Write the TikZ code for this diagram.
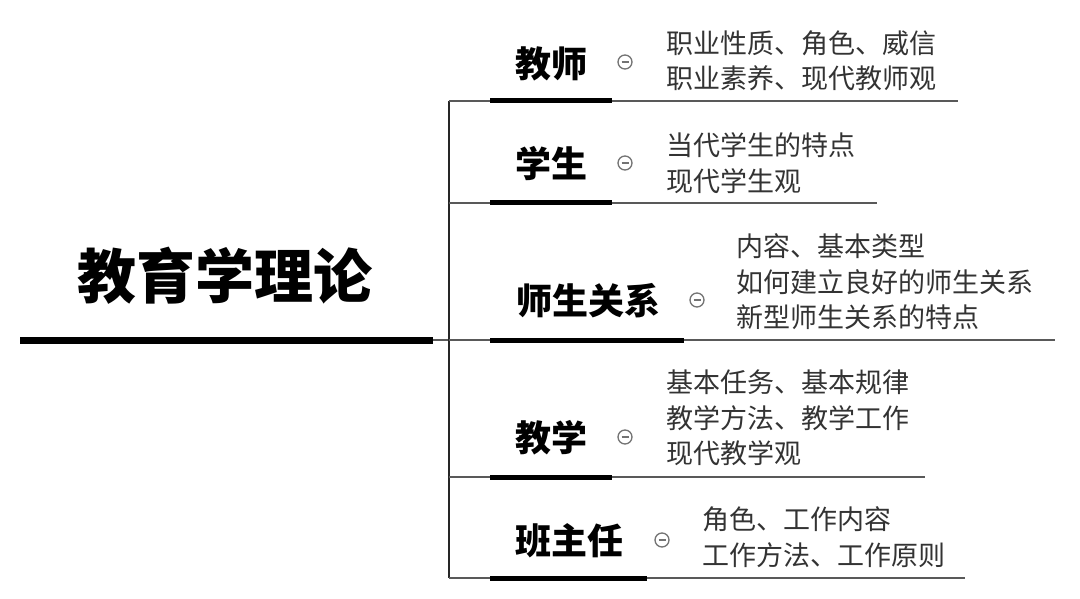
\documentclass[tikz,border=0pt]{standalone}
\usepackage{fontspec}
\setmainfont{Noto Sans CJK SC}
\begin{document}
\begin{tikzpicture}[x=1pt,y=-1pt,
  rootlabel/.style={font=\fontsize{59}{60}\selectfont\bfseries, inner sep=0pt, text=black},
  branchlabel/.style={font=\fontsize{36}{38}\selectfont\bfseries, inner sep=0pt, text=black, anchor=west},
  detail/.style={font=\fontsize{27}{35.5}\selectfont, inner sep=0pt, text=black!80, anchor=west, align=left},
  collapse/.style={circle, draw=black!55, line width=1.3pt, minimum size=14pt, inner sep=0pt,
    path picture={\draw[black!55, line width=1.2pt] ([xshift=-3.5pt]path picture bounding box.center) -- ([xshift=3.5pt]path picture bounding box.center);}},
  thickline/.style={line width=5pt, black},
  rootline/.style={line width=7pt, black},
  thinline/.style={line width=1.5pt, black!65},
  spineline/.style={line width=1.8pt, black!85}
]
\useasboundingbox (0,0) rectangle (1080,599);

% root
\node[rootlabel] (root) at (225,276) {教育学理论};
\coordinate (rootL) at (20,340);
\coordinate (rootR) at (433,340);
\coordinate (spineM) at (449,340);
\coordinate (spineT) at (449,101);
\coordinate (spineB) at (449,578);
\draw[rootline] (rootL) -- (rootR);
\draw[thinline] (rootR) -- (spineM);
\draw[spineline] (spineT) -- (spineB);

% branch 1
\node[branchlabel] (b1) at (515,64) {教师};
\node[collapse] (c1) at (625,62) {};
\node[detail] (d1) at (666,61) {职业性质、角色、威信\\职业素养、现代教师观};
\coordinate (u1a) at (490,101);
\coordinate (u1b) at (612,101);
\coordinate (u1c) at (958,101);
\draw[thinline] (spineT) -- (u1c);
\draw[thickline] (u1a) -- (u1b);

% branch 2
\node[branchlabel] (b2) at (515,164) {学生};
\node[collapse] (c2) at (625,163) {};
\node[detail] (d2) at (666,163) {当代学生的特点\\现代学生观};
\coordinate (s2) at (449,203);
\coordinate (u2a) at (490,203);
\coordinate (u2b) at (612,203);
\coordinate (u2c) at (877,203);
\draw[thinline] (s2) -- (u2c);
\draw[thickline] (u2a) -- (u2b);

% branch 3
\node[branchlabel] (b3) at (516,301) {师生关系};
\node[collapse] (c3) at (697,300) {};
\node[detail] (d3) at (736,282) {内容、基本类型\\如何建立良好的师生关系\\新型师生关系的特点};
\coordinate (u3a) at (490,340);
\coordinate (u3b) at (684,340);
\coordinate (u3c) at (1055,340);
\draw[thinline] (spineM) -- (u3c);
\draw[thickline] (u3a) -- (u3b);

% branch 4
\node[branchlabel] (b4) at (515,438) {教学};
\node[collapse] (c4) at (625,437) {};
\node[detail] (d4) at (666,418) {基本任务、基本规律\\教学方法、教学工作\\现代教学观};
\coordinate (s4) at (449,477);
\coordinate (u4a) at (490,477);
\coordinate (u4b) at (612,477);
\coordinate (u4c) at (925,477);
\draw[thinline] (s4) -- (u4c);
\draw[thickline] (u4a) -- (u4b);

% branch 5
\node[branchlabel] (b5) at (515,541) {班主任};
\node[collapse] (c5) at (662,540) {};
\node[detail] (d5) at (702,537) {角色、工作内容\\工作方法、工作原则};
\coordinate (u5a) at (490,578);
\coordinate (u5b) at (647,578);
\coordinate (u5c) at (965,578);
\draw[thinline] (spineB) -- (u5c);
\draw[thickline] (u5a) -- (u5b);
\end{tikzpicture}
\end{document}
